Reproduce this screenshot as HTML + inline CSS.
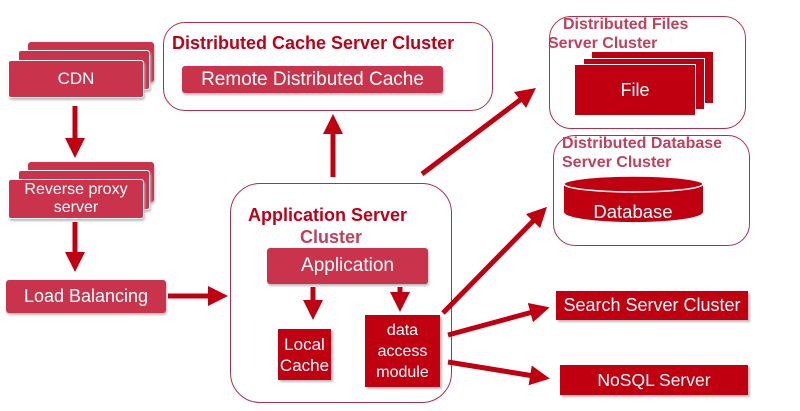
<!DOCTYPE html><html><head><meta charset="utf-8"><style>
body{margin:0;width:800px;height:411px;background:#fff;position:relative;overflow:hidden;font-family:"Liberation Sans",sans-serif}
.a{position:absolute;box-sizing:border-box}
.p{background:#c9344c;color:#fff;display:flex;align-items:center;justify-content:center;text-align:center;border-radius:3px;box-shadow:1px 2px 2px #bbb}
.r{background:#c00010;color:#fff;display:flex;align-items:center;justify-content:center;text-align:center;box-shadow:2px 2px 2px #bbb}
.b{border:1.5px solid #b0304a;border-radius:22px}
.t{color:#c00018;font-weight:bold;font-size:18px;white-space:nowrap}
.t2{color:#c2405e;font-weight:bold;font-size:16px;white-space:nowrap}
</style></head><body>
<div class="a p" style="left:28px;top:42px;width:126px;height:40px"></div>
<div class="a p" style="left:18px;top:50px;width:132px;height:40px;border:1px solid #fff"></div>
<div class="a p" style="left:8px;top:60px;width:136px;height:38px;font-size:17px;border:1px solid #fff">CDN</div>
<div class="a p" style="left:28px;top:162px;width:126px;height:40px"></div>
<div class="a p" style="left:18px;top:170px;width:132px;height:40px;border:1px solid #fff"></div>
<div class="a p" style="left:8px;top:179px;width:136px;height:40px;font-size:16px;line-height:18px;border:1px solid #fff">Reverse proxy<br>server</div>
<div class="a p" style="left:6px;top:280px;width:160px;height:33px;font-size:18px">Load Balancing</div>
<div class="a b" style="left:163px;top:22px;width:330px;height:89px"></div>
<div class="a t" style="left:172px;top:33px">Distributed Cache Server Cluster</div>
<div class="a p" style="left:182px;top:66px;width:261px;height:27px;font-size:19px">Remote Distributed Cache</div>
<div class="a b" style="left:230px;top:183px;width:222px;height:220px;border-radius:30px"></div>
<div class="a t" style="left:248px;top:205px">Application Server</div>
<div class="a t2" style="left:300px;top:227px;font-size:18px">Cluster</div>
<div class="a p" style="left:267px;top:248px;width:161px;height:36px;font-size:19px">Application</div>
<div class="a r" style="left:278px;top:329px;width:53px;height:51px;font-size:17px;line-height:21px">Local<br>Cache</div>
<div class="a r" style="left:365px;top:315px;width:75px;height:72px;font-size:16px;line-height:21px">data<br>access<br>module</div>
<div class="a b" style="left:549px;top:16px;width:197px;height:113px"></div>
<div class="a t2" style="left:563px;top:16px">Distributed Files</div>
<div class="a t2" style="left:548px;top:35px">Server Cluster</div>
<div class="a r" style="left:592px;top:52px;width:121px;height:51px;box-shadow:none"></div>
<div class="a r" style="left:583px;top:58px;width:122px;height:52px;border:1px solid #fff;box-shadow:none"></div>
<div class="a r" style="left:574px;top:64px;width:122px;height:52px;font-size:18px;border:1px solid #fff;box-shadow:none">File</div>
<div class="a b" style="left:553px;top:135px;width:197px;height:111px"></div>
<div class="a t2" style="left:562px;top:135px">Distributed Database</div>
<div class="a t2" style="left:562px;top:154px">Server Cluster</div>
<svg class="a" style="left:0;top:0" width="800" height="411">
<defs><marker id="m" markerWidth="4" markerHeight="4" refX="2" refY="2" orient="auto"><path d="M0,0L4,2L0,4z" fill="#c00010"/></marker></defs>
<path d="M564,184 V212 A69,10 0 0 0 703,212 V184 Z" fill="#c00010"/>
<ellipse cx="633.5" cy="184" rx="69.5" ry="8" fill="#c00010" stroke="#fff" stroke-width="1.5"/>
<text x="633" y="218" fill="#fff" font-size="18.5" text-anchor="middle" font-family="Liberation Sans">Database</text>
<g stroke="#c00010" stroke-width="5" fill="none" marker-end="url(#m)">
<line x1="75" y1="106" x2="75" y2="148"/>
<line x1="75" y1="222" x2="75" y2="262"/>
<line x1="168" y1="296" x2="218" y2="296"/>
<line x1="333" y1="177" x2="333" y2="124"/>
<line x1="313" y1="287" x2="313" y2="310"/>
<line x1="400" y1="287" x2="400" y2="302"/>
<line x1="422" y1="174" x2="528" y2="94"/>
<line x1="443" y1="313" x2="540" y2="214"/>
<line x1="448" y1="335" x2="540" y2="310"/>
<line x1="448" y1="362" x2="540" y2="377"/>
</g></svg>
<div class="a r" style="left:556px;top:291px;width:192px;height:29px;font-size:18px">Search Server Cluster</div>
<div class="a r" style="left:560px;top:365px;width:188px;height:30px;font-size:17.5px">NoSQL Server</div>
</body></html>
